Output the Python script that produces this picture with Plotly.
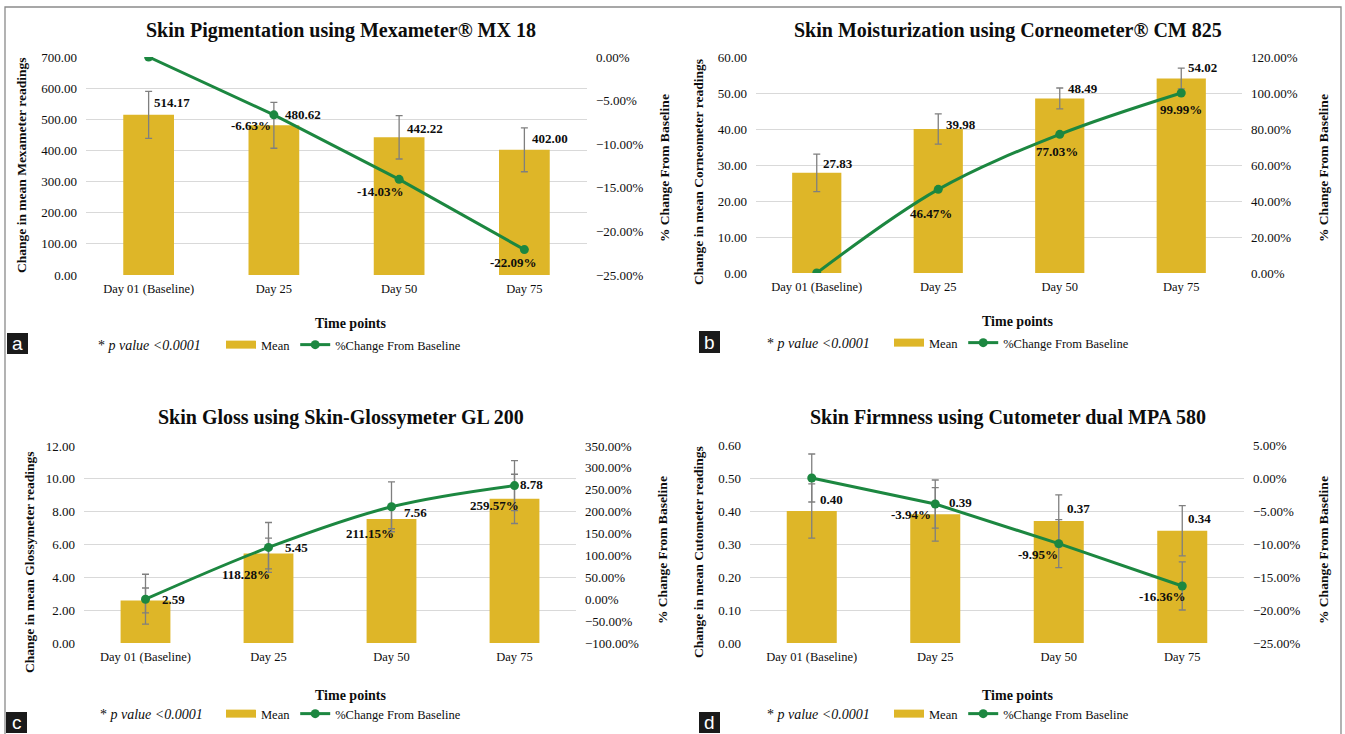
import plotly.graph_objects as go

# ---------------------------------------------------------------- data
days = ["Day 01 (Baseline)", "Day 25", "Day 50", "Day 75"]

# (a) skin pigmentation, Mexameter MX 18
pig_mean = [514.17, 480.62, 442.22, 402.00]
pig_err = [75.4, 73.6, 69.8, 70.4]
pig_pct = [0.00, -6.63, -14.03, -22.09]

# (b) skin moisturization, Corneometer CM 825
moist_mean = [27.83, 39.98, 48.49, 54.02]
moist_err = [5.2, 4.2, 2.9, 2.9]
moist_pct = [0.00, 46.47, 77.03, 99.99]

# (c) skin gloss, Skin-Glossymeter GL 200
gloss_mean = [2.59, 5.45, 7.56, 8.78]
gloss_err = [0.76, 0.94, 0.60, 1.50]
gloss_pct = [0.00, 118.28, 211.15, 259.57]
gloss_pct_err = [57.0, 57.0, 57.0, 57.0]

# (d) skin firmness, Cutometer dual MPA 580
firm_mean = [0.40, 0.39, 0.37, 0.34]
firm_err = [0.082, 0.081, 0.079, 0.076]
firm_pct = [0.00, -3.94, -9.95, -16.36]
firm_pct_err = [3.64, 3.64, 3.64, 3.64]

titles = [
    "Skin Pigmentation using Mexameter® MX 18",
    "Skin Moisturization using Corneometer® CM 825",
    "Skin Gloss using Skin-Glossymeter GL 200",
    "Skin Firmness using Cutometer dual MPA 580",
]
left_titles = [
    "Change in mean Mexameter readings",
    "Change in mean Corneometer readings",
    "Change in mean Glossymeter readings",
    "Change in mean Cutometer readings",
]
right_title = "% Change From Baseline"
x_title = "Time points"
p_note = "* <i>p value &lt;0.0001</i>"
letters = ["a", "b", "c", "d"]

series = [
    dict(mean=pig_mean, err=pig_err, pct=pig_pct, pct_err=None),
    dict(mean=moist_mean, err=moist_err, pct=moist_pct, pct_err=None),
    dict(mean=gloss_mean, err=gloss_err, pct=gloss_pct, pct_err=gloss_pct_err),
    dict(mean=firm_mean, err=firm_err, pct=firm_pct, pct_err=firm_pct_err),
]

# ---------------------------------------------------------------- styling / layout
SERIF = "Liberation Serif"
GOLD = "#DEB628"
GREEN = "#1C8740"
ERR = "#7F7F7F"
GRID = "#D9D9D9"
INK = "#0d0d0d"
W, H = 1345, 734


def px(x):
    return x / W


def py(y):
    return 1 - y / H


# pixel geometry of each panel
geom = [
    dict(plot=(86, 587, 57, 275), yl=(0, 700, 100), yr=(-25, 0, 5), smooth=False,
         title=(341, 30), ltitle=(21, 166), rtitle=(664, 168), xtitle=(351, 323),
         leg_y=345, pval_x=96, leg_x=221, box=(7, 333, 28, 354),
         vlab=[(3, 12), (9, 11), (6, 9), (6, 11)],
         plab=[None, (-23, 11), (-19, 12), (-11, 13)]),
    dict(plot=(756, 1242, 57, 273), yl=(0, 60, 10), yr=(0, 120, 20), smooth=True,
         title=(1008, 30), ltitle=(698, 172), rtitle=(1323, 168), xtitle=(1018, 322),
         leg_y=343, pval_x=765, leg_x=889, box=(699, 331, 720, 353),
         vlab=[(4, 9), (6, 5), (6, 10), (5, 11)],
         plab=[None, (-7, 24), (-3, 17), (0, 16)]),
    dict(plot=(84, 576, 446, 643), yl=(0, 12, 2), yr=(-100, 350, 50), smooth=True,
         title=(341, 417), ltitle=(29, 562), rtitle=(662, 550), xtitle=(351, 695),
         leg_y=714, pval_x=98, leg_x=221, box=(6, 712, 27, 733),
         vlab=[(14, 1), (14, 6), (10, 6), (3, 14)],
         plab=[None, (-23, 27), (-22, 27), (-20, 20)]),
    dict(plot=(750, 1244, 445, 643), yl=(0, 0.6, 0.1), yr=(-25, 5, 5), smooth=False,
         title=(1008, 417), ltitle=(698, 552), rtitle=(1323, 550), xtitle=(1018, 695),
         leg_y=714, pval_x=765, leg_x=889, box=(699, 712, 720, 733),
         vlab=[(6, 12), (12, 12), (6, 12), (4, 12)],
         plab=[None, (-24, 10), (-21, 11), (-20, 11)]),
]

fig = go.Figure()
layout = dict(
    width=W, height=H, template="none",
    margin=dict(l=0, r=0, t=0, b=0),
    paper_bgcolor="white", plot_bgcolor="white",
    font=dict(family=SERIF, color=INK),
    bargap=0.595,
    showlegend=True,
)
annotations = []
shapes = []

tick_font = dict(family=SERIF, size=13, color=INK)

for i, (s, g) in enumerate(zip(series, geom)):
    xa = "x" if i == 0 else f"x{i + 1}"
    yl = "y" if i == 0 else f"y{2 * i + 1}"
    yr = f"y{2 * i + 2}"
    xkey = "xaxis" if i == 0 else f"xaxis{i + 1}"
    ylkey = "yaxis" if i == 0 else f"yaxis{2 * i + 1}"
    yrkey = f"yaxis{2 * i + 2}"
    lg = "legend" if i == 0 else f"legend{i + 1}"
    x0, x1, y0, y1 = g["plot"]

    # bars with error bars
    fig.add_trace(go.Bar(
        x=days, y=s["mean"], xaxis=xa, yaxis=yl,
        marker=dict(color=GOLD, line=dict(width=0)),
        error_y=dict(type="data", array=s["err"], color=ERR, thickness=1.3, width=3.5),
        name="Mean", legendgroup=f"mean{i}", showlegend=False, legend=lg,
    ))
    # legend swatch for the bars
    fig.add_trace(go.Scatter(
        x=[None], y=[None], xaxis=xa, yaxis=yl, mode="lines",
        line=dict(color=GOLD, width=8),
        name="Mean", legendgroup=f"mean{i}", legend=lg,
    ))
    # percentage change line
    line_err = None
    if s["pct_err"] is not None:
        line_err = dict(type="data", array=s["pct_err"], color=ERR, thickness=1.3, width=3.5)
    fig.add_trace(go.Scatter(
        x=days, y=s["pct"], xaxis=xa, yaxis=yr, mode="lines+markers",
        line=dict(color=GREEN, width=3, shape="spline" if g["smooth"] else "linear", smoothing=1.0),
        marker=dict(color=GREEN, size=9),
        error_y=line_err,
        name="%Change From Baseline", legend=lg,
    ))

    layout[xkey] = dict(
        domain=[px(x0), px(x1)], anchor=yl, type="category", range=[-0.5, 3.5],
        showgrid=False, zeroline=False, showline=False, ticks="",
        tickfont=dict(family=SERIF, size=12.5, color=INK), ticklabelstandoff=4,
        automargin=False,
    )
    lo, hi, step = g["yl"]
    layout[ylkey] = dict(
        domain=[py(y1), py(y0)], anchor=xa, range=[lo, hi], dtick=step, tick0=0,
        tickformat=".2f", showgrid=True, gridcolor=GRID, gridwidth=1.3,
        zeroline=False, showline=False, ticks="", tickfont=tick_font,
        ticklabelstandoff=8, automargin=False,
    )
    lo, hi, step = g["yr"]
    layout[yrkey] = dict(
        overlaying=yl, side="right", anchor=xa, range=[lo, hi], dtick=step, tick0=0,
        tickformat=".2f", ticksuffix="%", showgrid=False, zeroline=False,
        showline=False, ticks="", tickfont=tick_font, ticklabelstandoff=8,
        automargin=False,
    )
    layout[lg] = dict(
        x=px(g["leg_x"]), y=py(g["leg_y"]), xanchor="left", yanchor="middle",
        orientation="h", bgcolor="rgba(0,0,0,0)", borderwidth=0,
        font=dict(family=SERIF, size=12.5, color=INK), itemwidth=30,
        traceorder="normal", tracegroupgap=0,
    )

    # titles
    tx, ty = g["title"]
    annotations.append(dict(text=f"<b>{titles[i]}</b>", x=px(tx), y=py(ty), xref="paper", yref="paper",
                            showarrow=False, xanchor="center", yanchor="middle",
                            font=dict(family=SERIF, size=20, color=INK)))
    lx, ly = g["ltitle"]
    annotations.append(dict(text=f"<b>{left_titles[i]}</b>", x=px(lx), y=py(ly), xref="paper", yref="paper",
                            showarrow=False, xanchor="center", yanchor="middle", textangle=-90,
                            font=dict(family=SERIF, size=13.5, color=INK)))
    rx, ry = g["rtitle"]
    annotations.append(dict(text=f"<b>{right_title}</b>", x=px(rx), y=py(ry), xref="paper", yref="paper",
                            showarrow=False, xanchor="center", yanchor="middle", textangle=-90,
                            font=dict(family=SERIF, size=13.5, color=INK)))
    hx, hy = g["xtitle"]
    annotations.append(dict(text=f"<b>{x_title}</b>", x=px(hx), y=py(hy), xref="paper", yref="paper",
                            showarrow=False, xanchor="center", yanchor="middle",
                            font=dict(family=SERIF, size=14, color=INK)))
    annotations.append(dict(text=p_note, x=px(g["pval_x"]), y=py(g["leg_y"]), xref="paper", yref="paper",
                            showarrow=False, xanchor="left", yanchor="middle",
                            font=dict(family=SERIF, size=14, color=INK)))

    # value labels on the bars
    for d, v, (dx, dy) in zip(days, s["mean"], g["vlab"]):
        annotations.append(dict(text=f"<b>{v:.2f}</b>", x=d, y=v, xref=xa, yref=yl,
                                showarrow=False, xanchor="left", yanchor="middle",
                                xshift=dx, yshift=dy,
                                font=dict(family=SERIF, size=13, color=INK)))
    # percentage labels on the line
    for d, p, off in zip(days, s["pct"], g["plab"]):
        if off is None:
            continue
        dx, dy = off
        annotations.append(dict(text=f"<b>{p:.2f}%</b>", x=d, y=p, xref=xa, yref=yr,
                                showarrow=False, xanchor="center", yanchor="middle",
                                xshift=dx, yshift=-dy,
                                font=dict(family=SERIF, size=13, color=INK)))

    # panel letter
    bx0, by0, bx1, by1 = g["box"]
    shapes.append(dict(type="rect", xref="paper", yref="paper",
                       x0=px(bx0), x1=px(bx1), y0=py(by1), y1=py(by0),
                       fillcolor="#1a1a1a", line=dict(width=0)))
    annotations.append(dict(text=letters[i], x=px((bx0 + bx1) / 2), y=py((by0 + by1) / 2),
                            xref="paper", yref="paper", showarrow=False,
                            xanchor="center", yanchor="middle",
                            font=dict(family="Liberation Sans", size=19, color="white")))

# outer frame
shapes.append(dict(type="rect", xref="paper", yref="paper",
                   x0=px(5), x1=px(1341), y0=py(760), y1=py(7),
                   line=dict(color="#8a8a8a", width=1.3), fillcolor="rgba(0,0,0,0)", layer="below"))

layout["annotations"] = annotations
layout["shapes"] = shapes
fig.update_layout(**layout)
fig.write_html("out.html")
